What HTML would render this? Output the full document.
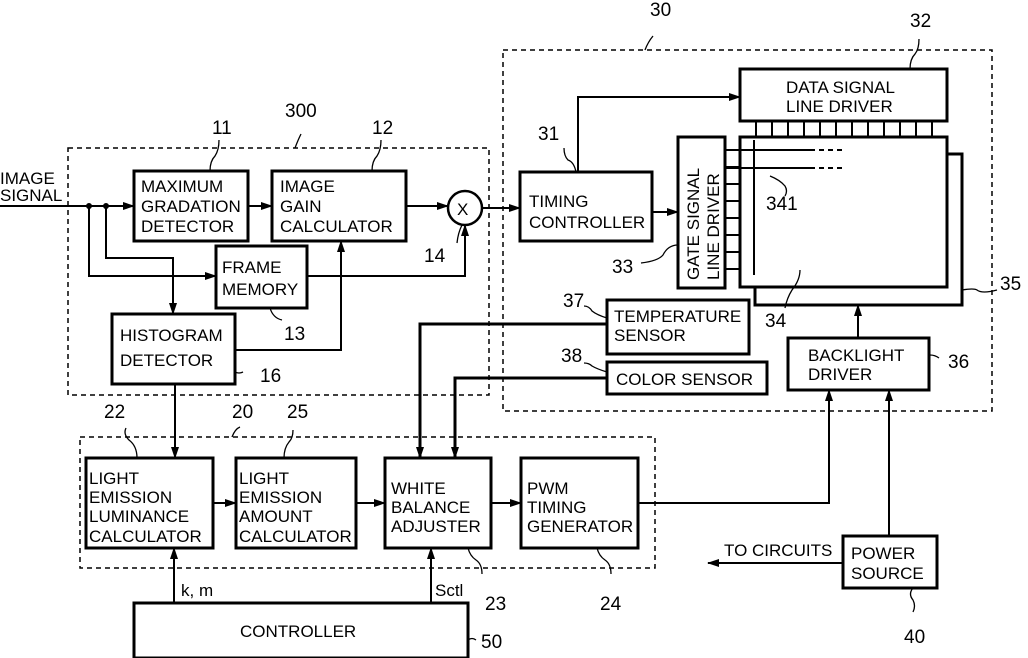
<!DOCTYPE html>
<html><head><style>
body{margin:0;background:#fff}
svg{display:block}
text{font-family:"Liberation Sans Narrow","Liberation Sans",sans-serif;font-size:17px;fill:#000}
.n{font-size:19px}
</style></head><body>
<svg width="1028" height="658" viewBox="0 0 1028 658" xmlns="http://www.w3.org/2000/svg">
<defs>
<marker id="a" markerWidth="12" markerHeight="8" refX="11" refY="4" orient="auto" markerUnits="userSpaceOnUse"><path d="M0,0 L12,4 L0,8 Z" fill="#000"/></marker>
</defs>
<g fill="none" stroke="#000" stroke-width="1.5" stroke-dasharray="5,4">
<rect x="68" y="148" width="421" height="247"/>
<rect x="503" y="50" width="489" height="361"/>
<rect x="80" y="437" width="575" height="131"/>
<rect x="748" y="148" width="30" height="27"/>
</g>
<g fill="#fff" stroke="#000" stroke-width="3">
<rect x="134" y="171" width="114" height="70"/>
<rect x="272" y="171" width="134" height="70"/>
<rect x="216" y="246" width="91" height="62"/>
<rect x="112" y="314" width="123" height="70"/>
<rect x="755" y="154" width="207" height="151"/>
<rect x="740" y="137" width="207" height="150"/>
<rect x="740" y="69" width="207" height="52"/>
<rect x="520" y="172" width="132" height="69"/>
<rect x="678" y="137" width="47" height="151"/>
<rect x="607" y="300" width="142" height="54"/>
<rect x="607" y="362" width="160" height="32"/>
<rect x="788" y="338" width="141" height="52"/>
<rect x="86" y="458" width="127" height="90"/>
<rect x="236" y="458" width="120" height="90"/>
<rect x="385" y="458" width="106" height="90"/>
<rect x="521" y="458" width="117" height="90"/>
<rect x="134" y="603" width="334" height="55"/>
<rect x="843" y="536" width="94" height="52"/>
</g>
<circle cx="465" cy="208" r="17" fill="#fff" stroke="#000" stroke-width="2.5"/>
<g fill="none" stroke="#000" stroke-width="2">
<path d="M0,206 H134" marker-end="url(#a)"/>
<path d="M248,206 H272" marker-end="url(#a)"/>
<path d="M406,206 H448" marker-end="url(#a)"/>
<path d="M89,206 V276 H216" marker-end="url(#a)"/>
<path d="M106,206 V258 H173 V314" marker-end="url(#a)"/>
<path d="M307,276 H465 V225" marker-end="url(#a)"/>
<path d="M235,350 H341 V241" marker-end="url(#a)"/>
<path d="M482,208 H520" marker-end="url(#a)"/>
<path d="M578,172 V97 H740" marker-end="url(#a)"/>
<path d="M652,212 H678" marker-end="url(#a)"/>
<path d="M858,338 V305" marker-end="url(#a)"/>
<path d="M175,384 V458" marker-end="url(#a)"/>
<path d="M213,503 H236" marker-end="url(#a)"/>
<path d="M356,503 H385" marker-end="url(#a)"/>
<path d="M491,503 H521" marker-end="url(#a)"/>
<path d="M638,503 H829 V390" marker-end="url(#a)"/>
<path d="M889,536 V390" marker-end="url(#a)"/>
<path d="M843,563 H708" marker-end="url(#a)"/>
<path d="M174,603 V548" marker-end="url(#a)"/>
<path d="M431,603 V548" marker-end="url(#a)"/>
</g>
<g fill="none" stroke="#000" stroke-width="3">
<path d="M607,324 H420 V458" marker-end="url(#a)"/>
<path d="M607,378 H455 V458" marker-end="url(#a)"/>
</g>
<g stroke="#000" stroke-width="2">
<path d="M756,121V137M772,121V137M788,121V137M804,121V137M820,121V137M836,121V137M852,121V137M868,121V137M884,121V137M900,121V137M916,121V137M932,121V137"/>
<path d="M725,150H740M725,167H740M725,184H740M725,201H740M725,218H740M725,235H740M725,252H740M725,269H740"/>
<path d="M725,150H810M725,168H810M754,140V275"/>
<path d="M810,150H842M810,168H842" stroke-dasharray="5,4"/>
</g>
<circle cx="89" cy="206" r="3"/><circle cx="106" cy="206" r="3"/>
<g fill="none" stroke="#000" stroke-width="1.3">
<path d="M210,171 q0,-10 5,-15 q4,-6 4,-16"/>
<path d="M372,171 q0,-10 5,-15 q4,-6 4,-16"/>
<path d="M295,148 q3,-8 6,-14"/>
<path d="M232,437 q3,-8 8,-10"/>
<path d="M576,172 q-2,-10 -8,-12 q-4,-4 -4,-12"/>
<path d="M910,69 q0,-10 5,-15 q4,-5 4,-15"/>
<path d="M645,50 q3,-8 8,-14"/>
<path d="M678,245 q-10,0 -15,10 q-5,6 -22,8"/>
<path d="M607,318 q-10,-3 -15,-7 q-3,-5 -8,-5"/>
<path d="M607,372 q-10,-3 -15,-6 q-3,-3 -8,-3"/>
<path d="M930,355 q5,0 9,3"/>
<path d="M962,290 q12,-2 15,0 q5,4 20,0"/>
<path d="M800,270 q0,10 -8,20 q-5,8 -7,18"/>
<path d="M770,176 q10,4 15,10 q3,5 0,10"/>
<path d="M462,225 q-4,8 -5,18"/>
<path d="M270,308 q3,10 12,12"/>
<path d="M235,372 q4,2 8,0"/>
<path d="M137,458 q0,-12 -8,-18 q-6,-6 -3,-12"/>
<path d="M284,458 q0,-10 5,-16 q4,-4 4,-12"/>
<path d="M468,548 q2,8 8,12 q6,4 6,14"/>
<path d="M597,548 q2,8 8,12 q6,4 6,14"/>
<path d="M468,640 q4,-3 8,0"/>
<path d="M913,588 q-5,6 0,12 q3,6 0,12"/>
</g>
<text x="0" y="184">IMAGE</text><text x="0" y="201">SIGNAL</text>
<text x="141" y="192">MAXIMUM</text><text x="141" y="212">GRADATION</text><text x="141" y="232">DETECTOR</text>
<text x="280" y="192">IMAGE</text><text x="280" y="212">GAIN</text><text x="280" y="232">CALCULATOR</text>
<text x="222" y="273">FRAME</text><text x="222" y="295">MEMORY</text>
<text x="120" y="341">HISTOGRAM</text><text x="120" y="366">DETECTOR</text>
<text x="457" y="215">X</text>
<text x="786" y="93">DATA  SIGNAL</text><text x="786" y="112">LINE  DRIVER</text>
<text x="529" y="207">TIMING</text><text x="529" y="228">CONTROLLER</text>
<text x="0" y="0" transform="translate(699,280) rotate(-90)">GATE  SIGNAL</text>
<text x="0" y="0" transform="translate(719,280) rotate(-90)">LINE  DRIVER</text>
<text x="614" y="322">TEMPERATURE</text><text x="614" y="341">SENSOR</text>
<text x="616" y="385">COLOR  SENSOR</text>
<text x="808" y="361">BACKLIGHT</text><text x="808" y="380">DRIVER</text>
<text x="89" y="484">LIGHT</text><text x="89" y="503">EMISSION</text><text x="89" y="522">LUMINANCE</text><text x="89" y="542">CALCULATOR</text>
<text x="239" y="484">LIGHT</text><text x="239" y="503">EMISSION</text><text x="239" y="522">AMOUNT</text><text x="239" y="542">CALCULATOR</text>
<text x="391" y="494">WHITE</text><text x="391" y="513">BALANCE</text><text x="391" y="532">ADJUSTER</text>
<text x="527" y="494">PWM</text><text x="527" y="513">TIMING</text><text x="527" y="532">GENERATOR</text>
<text x="240" y="637">CONTROLLER</text>
<text x="851" y="559">POWER</text><text x="851" y="579">SOURCE</text>
<text x="724" y="556">TO  CIRCUITS</text>
<text x="181" y="596">k, m</text><text x="435" y="596">Sctl</text>
<g class="n">
<text class="n" x="212" y="134">11</text><text class="n" x="372" y="134">12</text><text class="n" x="285" y="117">300</text>
<text class="n" x="424" y="262">14</text><text class="n" x="284" y="340">13</text><text class="n" x="260" y="382">16</text>
<text class="n" x="650" y="16">30</text><text class="n" x="910" y="27">32</text><text class="n" x="538" y="140">31</text>
<text class="n" x="766" y="210">341</text><text class="n" x="612" y="273">33</text><text class="n" x="1000" y="290">35</text>
<text class="n" x="563" y="307">37</text><text class="n" x="561" y="362">38</text><text class="n" x="948" y="368">36</text>
<text class="n" x="765" y="327">34</text>
<text class="n" x="104" y="418">22</text><text class="n" x="232" y="418">20</text><text class="n" x="287" y="418">25</text>
<text class="n" x="485" y="610">23</text><text class="n" x="600" y="610">24</text><text class="n" x="481" y="648">50</text>
<text class="n" x="904" y="643">40</text>
</g>
</svg>
</body></html>
